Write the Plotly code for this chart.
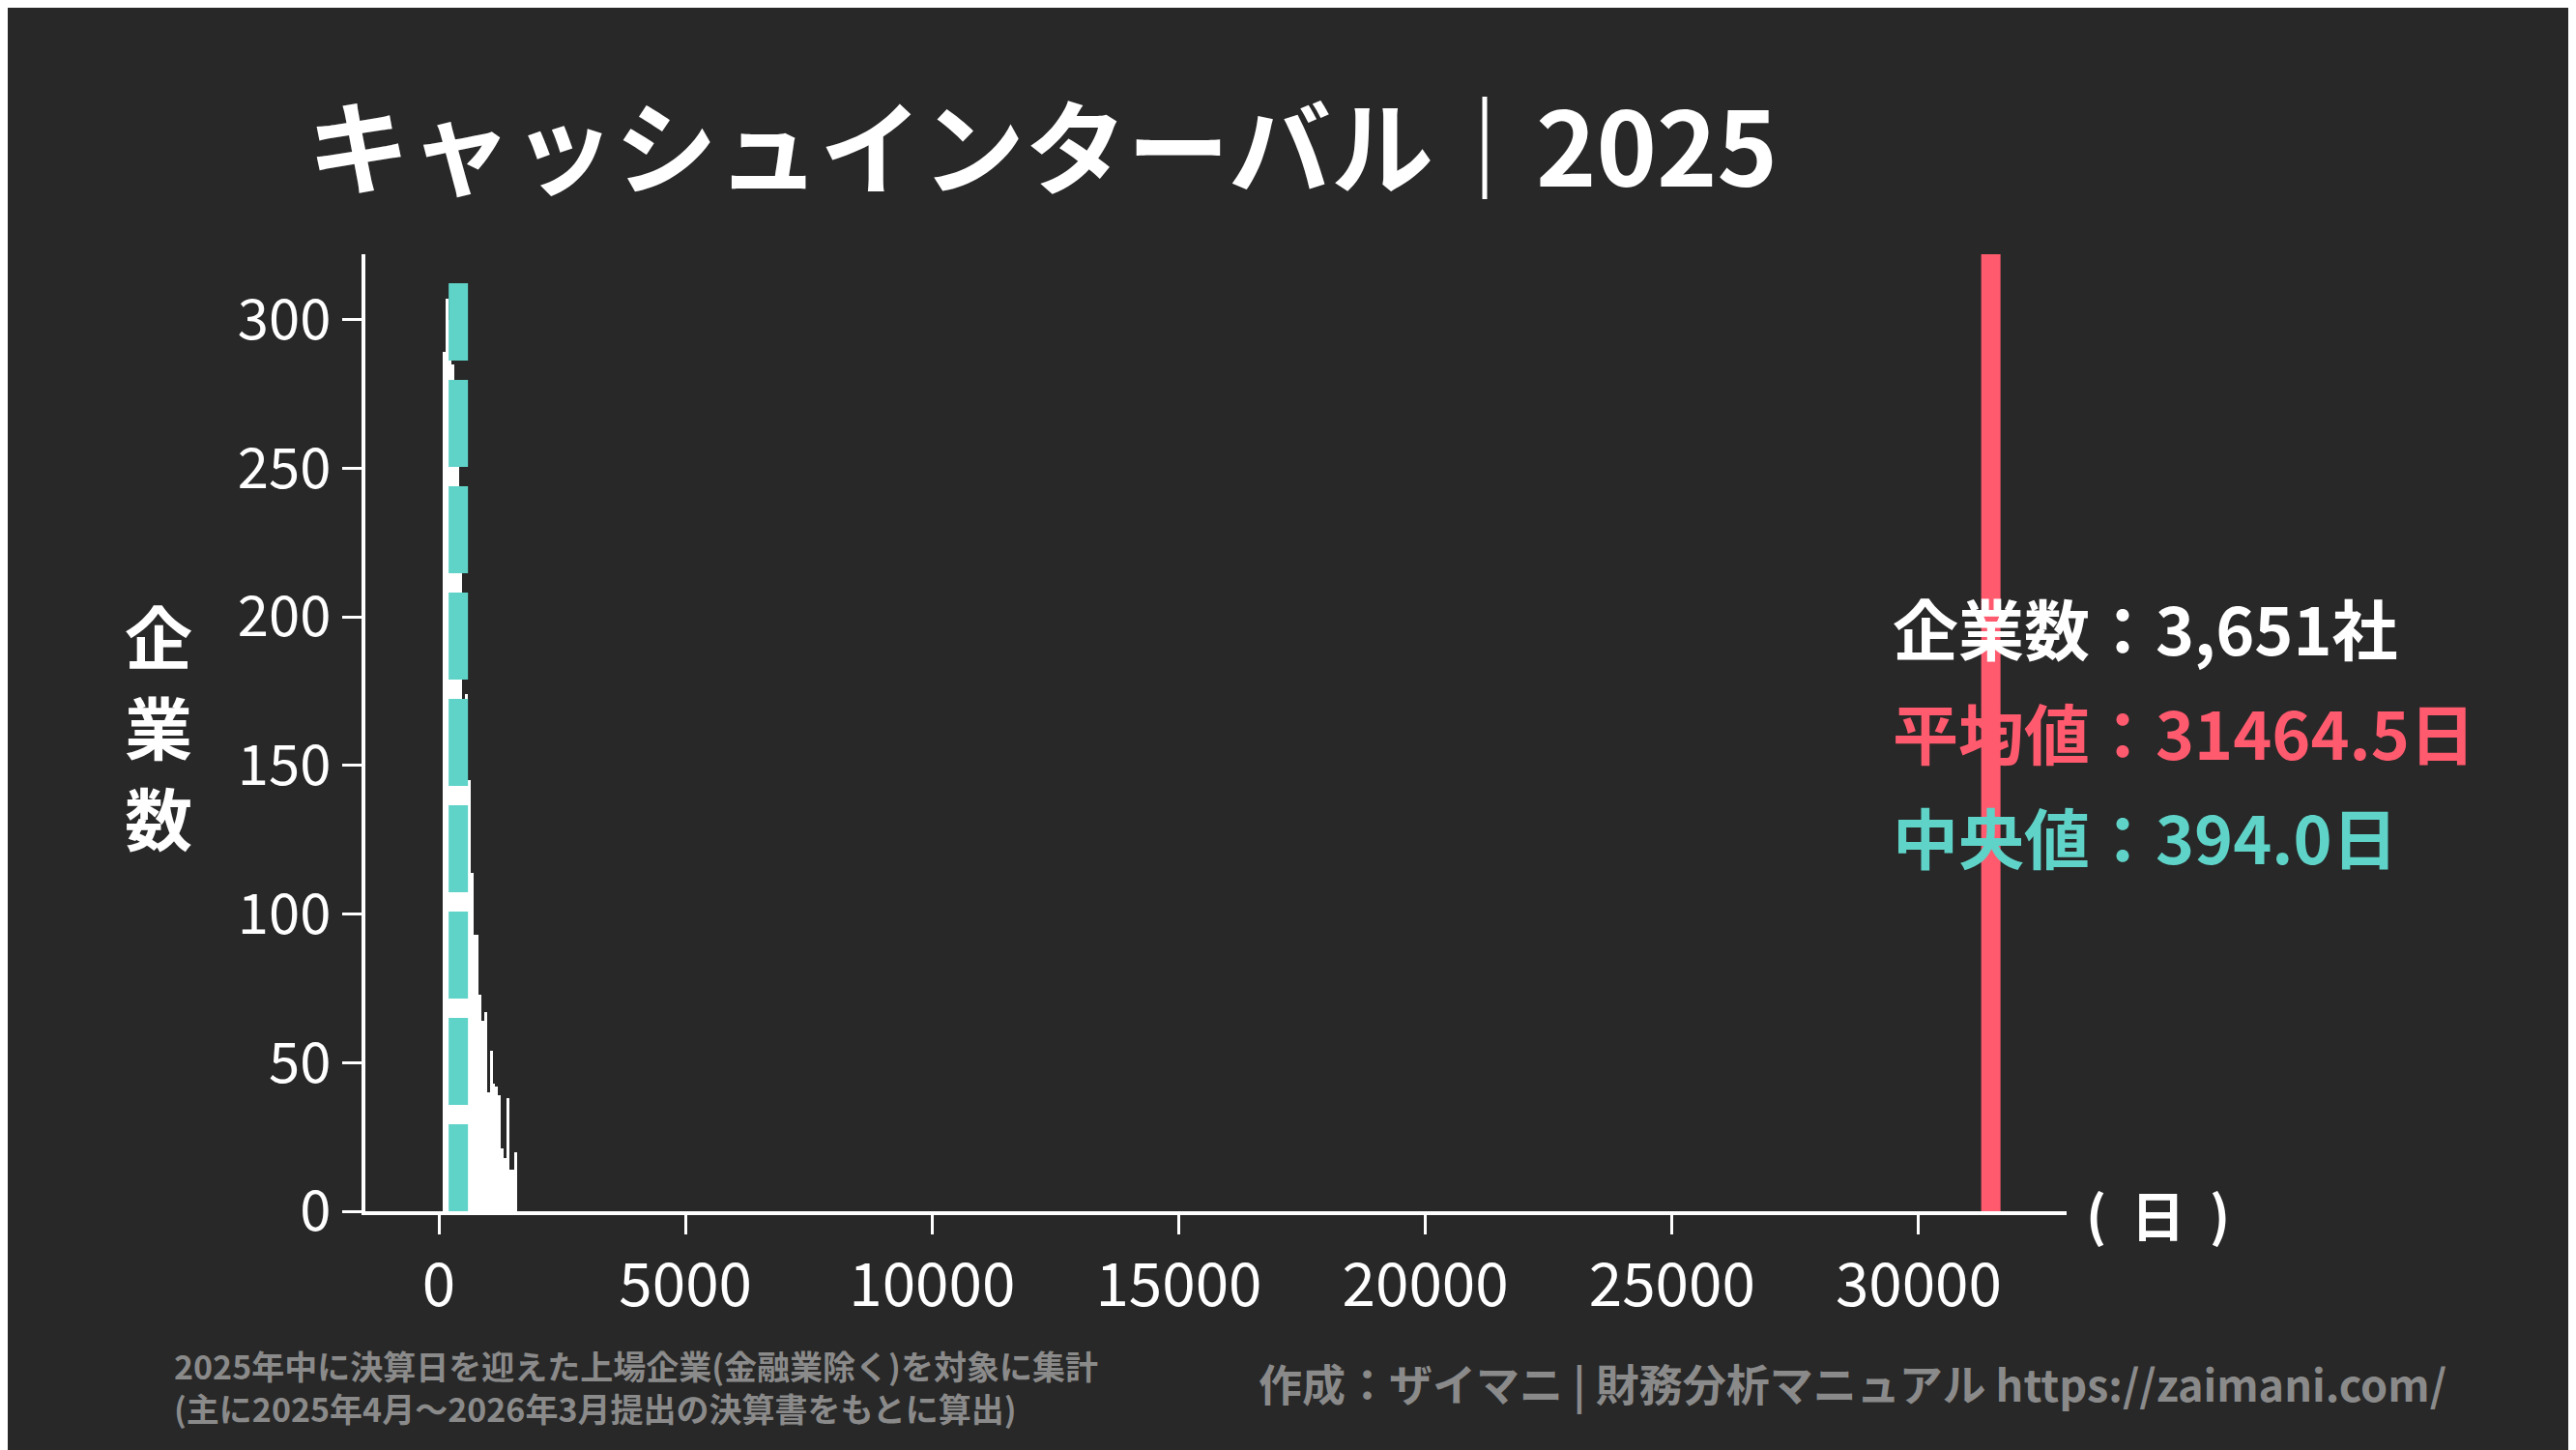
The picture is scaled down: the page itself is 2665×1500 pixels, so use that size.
import plotly.graph_objects as go

bin_start = 80
bin_width = 56
counts = [289, 307, 300, 285, 265, 255, 230, 165, 174, 145, 114, 93, 93, 73, 64, 67,
          40, 54, 43, 42, 39, 21, 18, 38, 14, 14, 20]
centers = [bin_start + bin_width * (i + 0.5) for i in range(len(counts))]
mean_val = 31464.5
median_val = 394.0
n_companies = "3,651"
x_ticks = [0, 5000, 10000, 15000, 20000, 25000, 30000]
y_ticks = [0, 50, 100, 150, 200, 250, 300]

BG = "#282828"
RED = "#ff5a6e"
TEAL = "#5fd3c8"
FONT = "Noto Sans CJK JP"

L, R, T, B = 370, 2130, 255, 1245
def px(x):
    return (x - L) / (R - L)
def py(y):
    return (B - y) / (B - T)

fig = go.Figure()
fig.add_trace(go.Bar(x=centers, y=counts, width=bin_width, marker=dict(color="white", line=dict(width=0)),
                     showlegend=False))
fig.add_shape(type="line", x0=mean_val, x1=mean_val, y0=0, y1=1, yref="paper",
              line=dict(color=RED, width=20))
fig.add_shape(type="line", x0=median_val, x1=median_val, y0=0, y1=py(285), yref="paper",
              line=dict(color=TEAL, width=20, dash="90px,20px"))

ann_font = dict(family=FONT, size=68)
fig.add_annotation(x=px(1948), y=py(640), xref="paper", yref="paper", xanchor="left", yanchor="middle",
                   text=f"<b>企業数：{n_companies}社</b>", showarrow=False, font=dict(ann_font, color="white"))
fig.add_annotation(x=px(1948), y=py(748), xref="paper", yref="paper", xanchor="left", yanchor="middle",
                   text=f"<b>平均値：{mean_val:.1f}日</b>", showarrow=False, font=dict(ann_font, color=RED))
fig.add_annotation(x=px(1948), y=py(857), xref="paper", yref="paper", xanchor="left", yanchor="middle",
                   text=f"<b>中央値：{median_val:.1f}日</b>", showarrow=False, font=dict(ann_font, color=TEAL))
for i, ch in enumerate("企業数"):
    fig.add_annotation(x=px(156), y=py(648 + i * 94), xref="paper", yref="paper", xanchor="center", yanchor="middle",
                       text=f"<b>{ch}</b>", showarrow=False, font=dict(family=FONT, size=70, color="white"))
fig.add_annotation(x=px(2148), y=py(1246), xref="paper", yref="paper", xanchor="left", yanchor="middle",
                   text="<b>(  日  )</b>", showarrow=False, font=dict(family=FONT, size=56, color="white"))
fig.add_annotation(x=px(170), y=py(1426), xref="paper", yref="paper", xanchor="left", yanchor="middle",
                   align="left",
                   text="<b>2025年中に決算日を迎えた上場企業(金融業除く)を対象に集計<br>(主に2025年4月～2026年3月提出の決算書をもとに算出)</b>",
                   showarrow=False, font=dict(family=FONT, size=34, color="#8a8a8a"))
fig.add_annotation(x=px(2525), y=py(1422), xref="paper", yref="paper", xanchor="right", yanchor="middle",
                   text="<b>作成：ザイマニ | 財務分析マニュアル https://zaimani.com/</b>",
                   showarrow=False, font=dict(family=FONT, size=45, color="#8a8a8a"))

fig.update_layout(
    width=2665, height=1500, paper_bgcolor=BG, plot_bgcolor=BG,
    margin=dict(l=L, r=2665 - R, t=T, b=1500 - B),
    title=dict(text="<b>キャッシュインターバル｜2025</b>", x=310/2665, xanchor="left", y=1-148/1500, yanchor="middle",
               font=dict(family=FONT, size=106, color="white")),
    bargap=0,
    font=dict(family=FONT, color="white"),
    xaxis=dict(range=[-1490, 33000], tickvals=x_ticks, ticktext=[str(v) for v in x_ticks],
               showgrid=False, zeroline=False, showline=True, linecolor="white", linewidth=4,
               ticks="outside", ticklen=20, tickwidth=3, tickcolor="white",
               tickfont=dict(family=FONT, size=62, color="white")),
    yaxis=dict(range=[0, 322], tickvals=y_ticks, showgrid=False, zeroline=False, showline=True,
               linecolor="white", linewidth=4, ticks="outside", ticklen=20, tickwidth=3, tickcolor="white",
               tickfont=dict(family=FONT, size=58, color="white")),
)
fig.write_html("out.html")
